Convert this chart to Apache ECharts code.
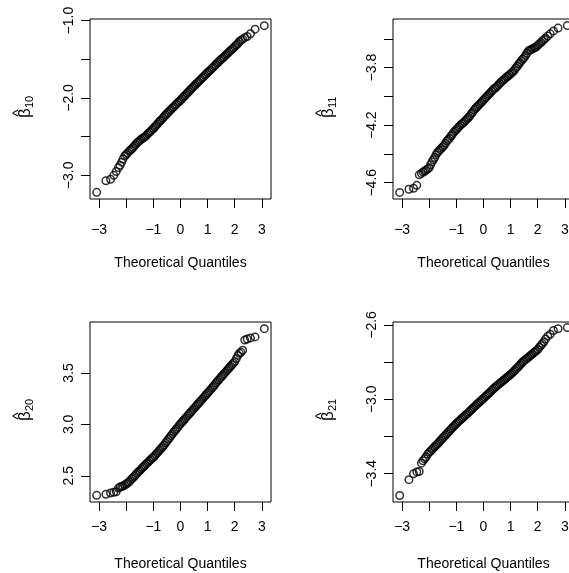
<!DOCTYPE html>
<html>
<head>
<meta charset="UTF-8">
<script src="https://cdn.jsdelivr.net/npm/echarts@6/dist/echarts.min.js"></script>
<style>
html, body { margin: 0; padding: 0; background: #fff; }
#main { width: 569px; height: 573px; }
</style>
</head>
<body>
<div id="main"></div>
<script type="text/javascript">
// theoretical normal quantiles (x of every panel)
var quantiles = [-3.09,-2.75,-2.58,-2.46,-2.37,-2.29,-2.23,-2.17,-2.12,-2.06,
  -2.00,-1.95,-1.90,-1.85,-1.80,-1.75,-1.70,-1.65,-1.60,-1.55,
  -1.50,-1.45,-1.40,-1.35,-1.30,-1.25,-1.20,-1.15,-1.10,-1.05,
  -1.00,-0.95,-0.90,-0.85,-0.80,-0.75,-0.70,-0.65,-0.60,-0.55,
  -0.50,-0.45,-0.40,-0.35,-0.30,-0.25,-0.20,-0.15,-0.10,-0.05,
  0.00,0.05,0.10,0.15,0.20,0.25,0.30,0.35,0.40,0.45,
  0.50,0.55,0.60,0.65,0.70,0.75,0.80,0.85,0.90,0.95,
  1.00,1.05,1.10,1.15,1.20,1.25,1.30,1.35,1.40,1.45,
  1.50,1.55,1.60,1.65,1.70,1.75,1.80,1.85,1.90,1.95,
  2.00,
  2.06,2.12,2.17,2.23,2.29,2.37,2.46,2.58,2.75,3.09];

// sample quantiles
var beta10 = [-3.22,-3.07,-3.05,-3.00,-2.95,-2.90,-2.87,-2.83,-2.79,-2.75,
  -2.73,-2.71,-2.69,-2.675,-2.66,-2.64,-2.62,-2.60,-2.58,-2.565,
  -2.55,-2.535,-2.52,-2.51,-2.50,-2.48,-2.46,-2.445,-2.43,-2.41,
  -2.395,-2.375,-2.355,-2.335,-2.315,-2.295,-2.28,-2.26,-2.24,-2.22,
  -2.20,-2.185,-2.165,-2.15,-2.13,-2.115,-2.095,-2.08,-2.06,-2.045,
  -2.03,-2.01,-1.99,-1.975,-1.955,-1.935,-1.92,-1.90,-1.88,-1.865,
  -1.845,-1.83,-1.81,-1.795,-1.775,-1.76,-1.74,-1.725,-1.705,-1.69,
  -1.67,-1.655,-1.64,-1.62,-1.605,-1.585,-1.57,-1.55,-1.535,-1.515,
  -1.50,-1.485,-1.47,-1.45,-1.435,-1.42,-1.40,-1.385,-1.37,-1.355,
  -1.335,
  -1.315,-1.295,-1.27,-1.255,-1.24,-1.22,-1.205,-1.17,-1.11,-1.065];

var beta11 = [-4.667,-4.645,-4.638,-4.618,-4.545,-4.535,-4.525,-4.52,-4.512,-4.505,
  -4.495,-4.475,-4.455,-4.44,-4.425,-4.405,-4.39,-4.38,-4.37,-4.36,
  -4.35,-4.34,-4.325,-4.31,-4.30,-4.29,-4.275,-4.265,-4.25,-4.24,
  -4.23,-4.22,-4.21,-4.20,-4.19,-4.185,-4.175,-4.165,-4.155,-4.145,
  -4.135,-4.12,-4.11,-4.095,-4.085,-4.075,-4.065,-4.055,-4.045,-4.035,
  -4.025,-4.015,-4.005,-3.995,-3.985,-3.975,-3.965,-3.955,-3.945,-3.94,
  -3.93,-3.92,-3.91,-3.90,-3.89,-3.885,-3.875,-3.865,-3.86,-3.85,
  -3.845,-3.835,-3.825,-3.815,-3.80,-3.79,-3.775,-3.765,-3.75,-3.74,
  -3.73,-3.715,-3.70,-3.685,-3.68,-3.675,-3.67,-3.665,-3.66,-3.655,
  -3.645,
  -3.635,-3.625,-3.615,-3.605,-3.595,-3.58,-3.565,-3.545,-3.525,-3.508];

var beta20 = [2.31,2.32,2.333,2.34,2.345,2.38,2.39,2.395,2.40,2.41,
  2.42,2.43,2.44,2.455,2.47,2.48,2.495,2.51,2.525,2.54,
  2.55,2.565,2.58,2.59,2.605,2.62,2.63,2.645,2.655,2.67,
  2.68,2.695,2.71,2.725,2.74,2.755,2.77,2.785,2.80,2.82,
  2.835,2.855,2.87,2.89,2.905,2.925,2.94,2.955,2.97,2.99,
  3.005,3.02,3.035,3.05,3.065,3.08,3.095,3.11,3.125,3.14,
  3.155,3.17,3.185,3.20,3.215,3.23,3.245,3.26,3.275,3.29,
  3.305,3.32,3.335,3.35,3.365,3.38,3.40,3.415,3.43,3.445,
  3.46,3.475,3.49,3.505,3.52,3.535,3.55,3.565,3.58,3.595,
  3.61,
  3.64,3.67,3.69,3.70,3.72,3.82,3.83,3.84,3.85,3.93];

var beta21 = [-3.517,-3.432,-3.40,-3.39,-3.388,-3.343,-3.33,-3.32,-3.31,-3.295,
  -3.285,-3.278,-3.27,-3.262,-3.255,-3.247,-3.24,-3.232,-3.224,-3.216,
  -3.208,-3.20,-3.192,-3.185,-3.177,-3.169,-3.161,-3.153,-3.145,-3.138,
  -3.13,-3.123,-3.117,-3.11,-3.103,-3.097,-3.09,-3.083,-3.077,-3.07,
  -3.063,-3.056,-3.049,-3.042,-3.035,-3.028,-3.021,-3.014,-3.008,-3.001,
  -2.995,-2.988,-2.981,-2.974,-2.967,-2.96,-2.953,-2.946,-2.939,-2.932,
  -2.926,-2.92,-2.914,-2.908,-2.902,-2.896,-2.89,-2.884,-2.878,-2.872,
  -2.866,-2.859,-2.852,-2.845,-2.837,-2.83,-2.822,-2.814,-2.806,-2.798,
  -2.792,-2.786,-2.78,-2.774,-2.768,-2.762,-2.756,-2.75,-2.744,-2.738,
  -2.732,
  -2.72,-2.71,-2.70,-2.69,-2.675,-2.66,-2.65,-2.63,-2.62,-2.614];

// ticks and labels
var xTicks = [-3, -2, -1, 0, 1, 2, 3];
var xLabels = [-3, -1, 0, 1, 2, 3];
var yTicks10 = [-3, -2.5, -2, -1.5, -1];
var yLabels10 = [-3, -2, -1];
var yTicks11 = [-4.6, -4.4, -4.2, -4.0, -3.8, -3.6];
var yLabels11 = [-4.6, -4.2, -3.8];
var yTicks20 = [2.5, 3.0, 3.5];
var yLabels20 = [2.5, 3.0, 3.5];
var yTicks21 = [-3.4, -3.2, -3.0, -2.8, -2.6];
var yLabels21 = [-3.4, -3.0, -2.6];
var subscripts = ['10', '11', '20', '21'];

var font = '"Liberation Sans", Arial, Helvetica, sans-serif';

function minus(s) { return String(s).replace('-', '\u2212'); }

var panels = [
  { left: 90, top: 19, values: beta10, ymin: -3.306, ymax: -0.979, ticks: yTicks10, labels: yLabels10, lm: 24, ng: 57 },
  { left: 393, top: 19, values: beta11, ymin: -4.713, ymax: -3.462, ticks: yTicks11, labels: yLabels11, lm: 24, ng: 57 },
  { left: 90, top: 322, values: beta20, ymin: 2.245, ymax: 3.995, ticks: yTicks20, labels: yLabels20, lm: 18, ng: 55 },
  { left: 393, top: 322, values: beta21, ymin: -3.552, ymax: -2.584, ticks: yTicks21, labels: yLabels21, lm: 18, ng: 55 }
];

var option = { animation: false, grid: [], xAxis: [], yAxis: [], series: [], graphic: [] };

panels.forEach(function (p, i) {
  option.grid.push({
    left: p.left, top: p.top, width: 181, height: 180,
    show: true, borderColor: '#000', borderWidth: 1, backgroundColor: 'transparent',
    outerBoundsMode: 'none'
  });
  option.xAxis.push({
    type: 'value', gridIndex: i, min: -3.337, max: 3.337,
    axisLine: { show: false, onZero: false }, splitLine: { show: false },
    axisTick: { customValues: xTicks, length: 9, lineStyle: { color: '#000', width: 1 } },
    axisLabel: { customValues: xLabels, margin: p.lm, color: '#000', fontSize: 14, fontFamily: font,
      formatter: function (v) { return minus(v); } },
    name: 'Theoretical Quantiles', nameLocation: 'middle', nameGap: p.ng,
    nameTextStyle: { color: '#000', fontSize: 14, fontFamily: font }
  });
  option.yAxis.push({
    type: 'value', gridIndex: i, min: p.ymin, max: p.ymax,
    axisLine: { show: false, onZero: false }, splitLine: { show: false },
    axisTick: { customValues: p.ticks, length: 9, lineStyle: { color: '#000', width: 1 } },
    axisLabel: { customValues: p.labels, rotate: 90, margin: 14, color: '#000', fontSize: 14, fontFamily: font,
      formatter: function (v) { return minus(v.toFixed(1)); } }
  });
  option.series.push({
    type: 'scatter', xAxisIndex: i, yAxisIndex: i,
    symbol: 'circle', symbolSize: 7.5,
    itemStyle: { color: 'rgba(0,0,0,0)', borderColor: '#000', borderWidth: 1.5 },
    data: quantiles.map(function (q, k) { return [q, p.values[k]]; })
  });
  // y title: beta hat with subscript, turned to read upwards
  option.graphic.push({
    type: 'group', x: p.left - 64.5, y: p.top + 99, rotation: Math.PI / 2,
    children: [
      { type: 'text', x: 0, y: 0, style: { text: 'β', fontSize: 17, fontFamily: font, fill: '#000', align: 'left', verticalAlign: 'middle' } },
      { type: 'text', x: 10, y: 4, style: { text: subscripts[i], fontSize: 11, fontFamily: font, fill: '#000', align: 'left', verticalAlign: 'middle' } },
      { type: 'text', x: 5, y: -6.5, style: { text: '^', fontSize: 15, fontFamily: font, fill: '#000', align: 'center', verticalAlign: 'middle' } }
    ]
  });
});

var chart = echarts.init(document.getElementById('main'));
chart.setOption(option);
</script>
</body>
</html>
